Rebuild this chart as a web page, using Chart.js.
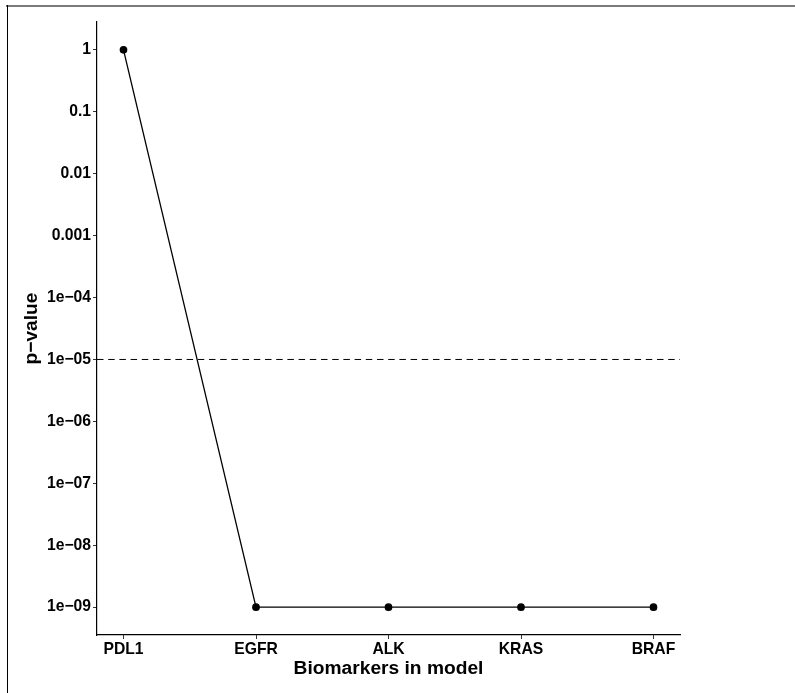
<!DOCTYPE html>
<html>
<head>
<meta charset="utf-8">
<script src="https://cdn.jsdelivr.net/npm/chart.js@4"></script>
<style>
  body { margin: 0; background: #fff; }
</style>
</head>
<body>
<canvas id="pvalChart" width="795" height="693"></canvas>
<script>
// biomarkers added to the model, in order
const categories = ['PDL1', 'EGFR', 'ALK', 'KRAS', 'BRAF'];
// p-value after adding each biomarker
const pValues = [1, 1e-9, 1e-9, 1e-9, 1e-9];
// significance cut-off (dashed line)
const threshold = 1e-5;

// y axis ticks, one per decade
const yTickValues = [1, 0.1, 0.01, 0.001, 1e-4, 1e-5, 1e-6, 1e-7, 1e-8, 1e-9];
const yTickLabels = ['1', '0.1', '0.01', '0.001', '1e\u221204', '1e\u221205',
  '1e\u221206', '1e\u221207', '1e\u221208', '1e\u221209'];

const fontFamily = "'Liberation Sans', Arial, Helvetica, sans-serif";

// outer frame lines
const framePlugin = {
  id: 'frame',
  beforeDraw(chart) {
    const ctx = chart.ctx;
    ctx.save();
    ctx.fillStyle = '#fff';
    ctx.fillRect(0, 0, chart.width, chart.height);
    ctx.strokeStyle = '#7a7a7a';
    ctx.lineWidth = 2;
    ctx.beginPath();
    ctx.moveTo(6, 6);
    ctx.lineTo(chart.width, 6);
    ctx.stroke();
    ctx.strokeStyle = '#000';
    ctx.lineWidth = 1;
    ctx.beginPath();
    ctx.moveTo(7.5, 5);
    ctx.lineTo(7.5, chart.height);
    ctx.stroke();
    ctx.restore();
  }
};

const data = {
  datasets: [
    {
      label: 'p-value',
      data: pValues.map((v, i) => ({ x: i, y: v })),
      borderColor: '#000',
      backgroundColor: '#000',
      borderWidth: 1.3,
      pointRadius: 3.2,
      pointHoverRadius: 3.2,
      tension: 0
    },
    {
      label: 'threshold',
      data: [{ x: -0.2, y: threshold }, { x: categories.length - 0.8, y: threshold }],
      borderColor: '#000',
      borderWidth: 1,
      borderDash: [6.5, 4.7],
      pointRadius: 0,
      tension: 0
    }
  ]
};

const config = {
  type: 'line',
  data: data,
  options: {
    responsive: false,
    devicePixelRatio: 1,
    animation: false,
    layout: { padding: { top: 22, right: 115, left: 0, bottom: 0 } },
    plugins: {
      legend: { display: false },
      tooltip: { enabled: false }
    },
    scales: {
      x: {
        type: 'linear',
        min: -0.2,
        max: categories.length - 0.8,
        afterBuildTicks(scale) {
          scale.ticks = categories.map((c, i) => ({ value: i }));
        },
        afterFit(scale) { scale.height = 58; },
        ticks: {
          autoSkip: false,
          maxRotation: 0,
          padding: 1,
          color: '#000',
          font: { family: fontFamily, size: 15.7, weight: 'bold' },
          callback: (v) => categories[v]
        },
        grid: { drawOnChartArea: false, tickLength: 4, color: '#333', lineWidth: 1 },
        border: { display: true, color: '#000', width: 1.2 },
        title: {
          display: true,
          text: 'Biomarkers in model',
          color: '#000',
          font: { family: fontFamily, size: 19.2, weight: 'bold', lineHeight: 1.2 },
          padding: { top: 0, bottom: 12.5 }
        }
      },
      y: {
        type: 'logarithmic',
        min: Math.pow(10, -9.45),
        max: Math.pow(10, 0.45),
        afterBuildTicks(scale) {
          scale.ticks = yTickValues.map(v => ({ value: v }));
        },
        afterFit(scale) { scale.width = 97; },
        ticks: {
          autoSkip: false,
          padding: 2,
          color: '#000',
          font: { family: fontFamily, size: 15.7, weight: 'bold' },
          callback: (v) => yTickLabels[yTickValues.findIndex(t => Math.abs(Math.log10(t) - Math.log10(v)) < 1e-6)]
        },
        grid: { drawOnChartArea: false, tickLength: 4, color: '#333', lineWidth: 1 },
        border: { display: true, color: '#000', width: 1.2 },
        title: {
          display: true,
          text: 'p\u2212value',
          color: '#000',
          font: { family: fontFamily, size: 19.2, weight: 'bold', lineHeight: 1.2 },
          padding: { top: 20.5, bottom: 0 }
        }
      }
    }
  },
  plugins: [framePlugin]
};

const pvalChart = new Chart(document.getElementById('pvalChart'), config);
</script>
</body>
</html>
